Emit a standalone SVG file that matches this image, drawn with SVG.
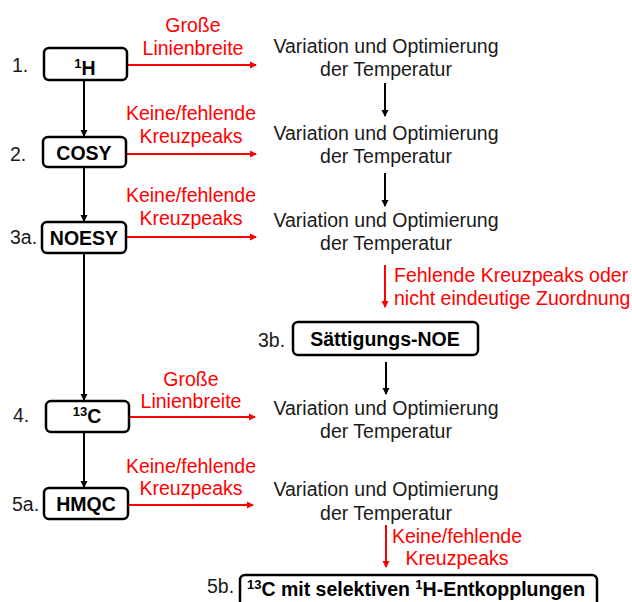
<svg xmlns="http://www.w3.org/2000/svg" width="632" height="602" viewBox="0 0 632 602">
<style>
text{font-family:"Liberation Sans",Arial,sans-serif;font-size:19.5px}
.num{fill:#1a1a1a}
.box{fill:#fff;stroke:#000;stroke-width:2.5}
.bl{font-weight:bold;text-anchor:middle;fill:#000}
.red{fill:#ff0000;text-anchor:middle}
.redl{fill:#ff0000}
.var{fill:#1a1a1a;text-anchor:middle}
.k{stroke:#000;stroke-width:2;fill:none}
.r{stroke:#ff0000;stroke-width:2;fill:none}
.sup{font-size:13px}
</style>
<defs>
<marker id="ak" markerWidth="8" markerHeight="8" refX="6" refY="4" orient="auto" markerUnits="userSpaceOnUse"><path d="M0,0.5 L7,4 L0,7.5 Z" fill="#000"/></marker>
<marker id="ar" markerWidth="8" markerHeight="8" refX="6" refY="4" orient="auto" markerUnits="userSpaceOnUse"><path d="M0,0.5 L7,4 L0,7.5 Z" fill="#ff0000"/></marker>
</defs>
<rect width="632" height="602" fill="#fff"/>
<g id="connectors">
<line class="k" x1="84" y1="80" x2="84" y2="136" marker-end="url(#ak)"/>
<line class="k" x1="84" y1="167" x2="84" y2="221" marker-end="url(#ak)"/>
<line class="k" x1="84" y1="253" x2="84" y2="400" marker-end="url(#ak)"/>
<line class="k" x1="84" y1="432" x2="84" y2="487" marker-end="url(#ak)"/>
<line class="r" x1="127" y1="65" x2="256" y2="65" marker-end="url(#ar)"/>
<line class="r" x1="126" y1="154" x2="256" y2="154" marker-end="url(#ar)"/>
<line class="r" x1="126" y1="237" x2="256" y2="237" marker-end="url(#ar)"/>
<line class="r" x1="129" y1="417" x2="255" y2="417" marker-end="url(#ar)"/>
<line class="r" x1="128" y1="505" x2="253" y2="505" marker-end="url(#ar)"/>
<line class="k" x1="385" y1="83" x2="385" y2="116" marker-end="url(#ak)"/>
<line class="k" x1="385" y1="173" x2="385" y2="206" marker-end="url(#ak)"/>
<line class="r" x1="385" y1="265" x2="385" y2="307" marker-end="url(#ar)"/>
<line class="k" x1="386" y1="362" x2="386" y2="394" marker-end="url(#ak)"/>
<line class="r" x1="386" y1="525" x2="386" y2="567" marker-end="url(#ar)"/>
<text class="red" x="193" y="32">Große</text>
<text class="red" x="193" y="55">Linienbreite</text>
<text class="red" x="191" y="120">Keine/fehlende</text>
<text class="red" x="191" y="143">Kreuzpeaks</text>
<text class="red" x="191" y="202">Keine/fehlende</text>
<text class="red" x="191" y="225">Kreuzpeaks</text>
<text class="red" x="191" y="386">Große</text>
<text class="red" x="191" y="408">Linienbreite</text>
<text class="red" x="191" y="473">Keine/fehlende</text>
<text class="red" x="191" y="495">Kreuzpeaks</text>
<text class="redl" x="394" y="282">Fehlende Kreuzpeaks oder</text>
<text class="redl" x="394" y="305">nicht eindeutige Zuordnung</text>
<text class="red" x="457" y="543">Keine/fehlende</text>
<text class="red" x="457" y="565">Kreuzpeaks</text>
</g>
<g id="n1">
<text class="num" x="12" y="72">1.</text>
<rect class="box" x="44" y="48" width="83" height="32" rx="5"/>
<text class="bl" x="85" y="75"><tspan class="sup" dy="-7">1</tspan><tspan dy="7">H</tspan></text>
</g>
<g id="v1">
<text class="var" x="386" y="53">Variation und Optimierung</text>
<text class="var" x="386" y="76">der Temperatur</text>
</g>
<g id="n2">
<text class="num" x="10" y="161">2.</text>
<rect class="box" x="43" y="137" width="83" height="30" rx="5"/>
<text class="bl" x="84" y="160">COSY</text>
</g>
<g id="v2">
<text class="var" x="386" y="140">Variation und Optimierung</text>
<text class="var" x="386" y="163">der Temperatur</text>
</g>
<g id="n3a">
<text class="num" x="10" y="244">3a.</text>
<rect class="box" x="42" y="222" width="84" height="31" rx="5"/>
<text class="bl" x="84" y="245">NOESY</text>
</g>
<g id="v3">
<text class="var" x="386" y="227">Variation und Optimierung</text>
<text class="var" x="386" y="250">der Temperatur</text>
</g>
<g id="n3b">
<text class="num" x="258" y="347">3b.</text>
<rect class="box" x="293" y="322" width="185" height="33" rx="5"/>
<text class="bl" x="385" y="346">Sättigungs-NOE</text>
</g>
<g id="n4">
<text class="num" x="13" y="422">4.</text>
<rect class="box" x="46" y="401" width="83" height="31" rx="5"/>
<text class="bl" x="87" y="423"><tspan class="sup" dy="-7">13</tspan><tspan dy="7">C</tspan></text>
</g>
<g id="v4">
<text class="var" x="386" y="415">Variation und Optimierung</text>
<text class="var" x="386" y="438">der Temperatur</text>
</g>
<g id="n5a">
<text class="num" x="12" y="511">5a.</text>
<rect class="box" x="44" y="488" width="84" height="31" rx="5"/>
<text class="bl" x="86" y="511">HMQC</text>
</g>
<g id="v5">
<text class="var" x="386" y="496">Variation und Optimierung</text>
<text class="var" x="386" y="520">der Temperatur</text>
</g>
<g id="n5b">
<text class="num" x="207" y="593">5b.</text>
<rect class="box" x="240" y="575" width="357" height="40" rx="5"/>
<text class="bl" x="416" y="596"><tspan class="sup" dy="-7">13</tspan><tspan dy="7">C mit selektiven </tspan><tspan class="sup" dy="-7">1</tspan><tspan dy="7">H-Entkopplungen</tspan></text>
</g>
</svg>
